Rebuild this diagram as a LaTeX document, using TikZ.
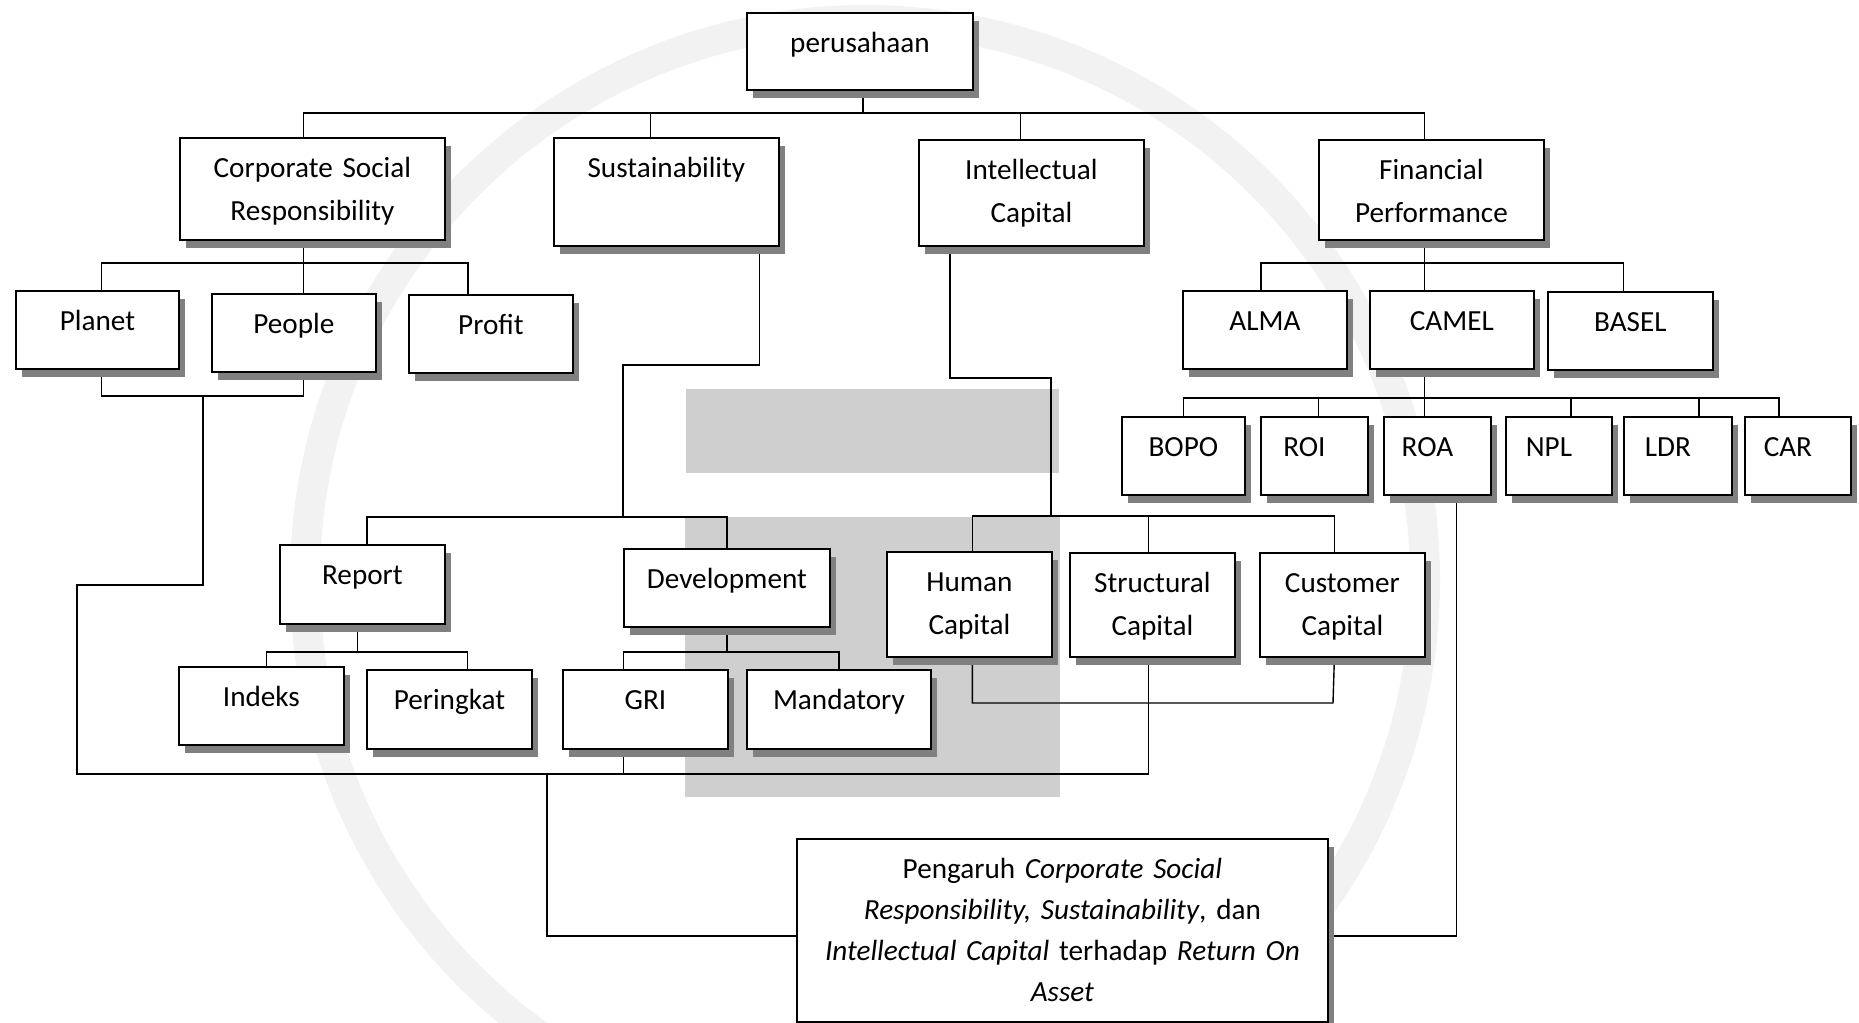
\documentclass[tikz,border=0pt]{standalone}
\usepackage{fontspec}
\setmainfont{Carlito}
\usetikzlibrary{shadows,backgrounds}

\begin{document}
\begin{tikzpicture}[x=0.5pt,y=-0.5pt,
    box/.style={draw=black, line width=0.9pt, fill=white, inner sep=0pt, anchor=north west,
        align=center, text height=20pt, font=\fontsize{14.6pt}{21.3pt}\selectfont,
        drop shadow={shadow xshift=3pt, shadow yshift=-4pt, fill=black!50, opacity=1}},
    link/.style={draw=black, line width=0.7pt}]
    \useasboundingbox (0,0) rectangle (1859,1023);

    % top and first level
    \node[box, text width=113pt, text depth=18.5pt] (top) at (746,12) {perusahaan};
    \node[box, text width=132.5pt, text depth=31pt] (csr) at (179,137) {Corporate Social\\Responsibility};
    \node[box, text width=112.5pt, text depth=34pt] (sust) at (553,137) {Sustainability};
    \node[box, text width=112.5pt, text depth=33pt] (ic) at (918,139) {Intellectual\\Capital};
    \node[box, text width=112.5pt, text depth=30pt] (fp) at (1318,139) {Financial\\Performance};

    % second level
    \node[box, text width=81.5pt, text depth=19pt] (planet) at (15,290) {Planet};
    \node[box, text width=82pt, text depth=19pt] (people) at (211,293) {People};
    \node[box, text width=82pt, text depth=19pt] (profit) at (408,294) {Profit};
    \node[box, text width=82pt, text depth=19pt] (alma) at (1182,290) {ALMA};
    \node[box, text width=82pt, text depth=19pt] (camel) at (1369,290) {CAMEL};
    \node[box, text width=82.5pt, text depth=19pt] (basel) at (1547,291) {BASEL};

    % camel ratios
    \node[box, text width=61.5pt, text depth=19pt] (bopo) at (1121,416) {BOPO};
    \node[box, text width=53.5pt, text depth=19pt] (roi) at (1260,416) {ROI\kern10pt};
    \node[box, text width=53.5pt, text depth=19pt] (roa) at (1383,416) {ROA\kern10pt};
    \node[box, text width=53pt, text depth=19pt] (npl) at (1505,416) {NPL\kern10pt};
    \node[box, text width=54pt, text depth=19pt] (ldr) at (1623,416) {LDR\kern10pt};
    \node[box, text width=53pt, text depth=19pt] (car) at (1744,416) {CAR\kern10pt};

    % sustainability branch
    \node[box, text width=82.5pt, text depth=19.5pt] (report) at (279,544) {Report};
    \node[box, text width=103pt, text depth=19pt] (dev) at (623,548) {Development};
    \node[box, text width=82.5pt, text depth=19pt] (indeks) at (178,666) {Indeks};
    \node[box, text width=82.5pt, text depth=19.5pt] (peringkat) at (366,669) {Peringkat};
    \node[box, text width=82.5pt, text depth=19.5pt] (gri) at (562,669) {GRI};
    \node[box, text width=92pt, text depth=19.5pt] (mandatory) at (746,669) {Mandatory};

    % intellectual capital branch
    \node[box, text width=82.5pt, text depth=32.5pt] (human) at (886,551) {Human\\Capital};
    \node[box, text width=82.5pt, text depth=32pt] (structural) at (1069,552) {Structural\\Capital};
    \node[box, text width=82.5pt, text depth=32pt] (customer) at (1259,552) {Customer\\Capital};

    % result
    \node[box, text width=265.5pt, text depth=71.5pt, font=\fontsize{14.6pt}{20.4pt}\selectfont] (final) at (796,838)
        {Pengaruh \textit{Corporate Social}\\\textit{Responsibility, Sustainability}, dan\\\textit{Intellectual Capital} terhadap \textit{Return On}\\\textit{Asset}};

    \begin{scope}[on background layer]
    % watermark
    \draw[black!5, line width=15pt] (865,580) circle [radius=280pt];
    \fill[black!19] (686,389) rectangle (1059,473);
    \fill[black!19] (685,517) rectangle (1060,797);

    % perusahaan
    \coordinate (j0) at ([xshift=1.5pt,yshift=-11pt]top.south);
    \draw[link] ([xshift=1.5pt]top.south) -- (j0);
    \draw[link] ([xshift=-4.5pt]csr.north) |- (j0);
    \draw[link] ([xshift=-8pt]sust.north) |- (j0);
    \draw[link] ([xshift=-5.5pt]ic.north) |- (j0);
    \draw[link] ([xshift=-3.5pt]fp.north) |- (j0);

    % csr
    \coordinate (j1) at ([xshift=-4.5pt,yshift=-11pt]csr.south);
    \draw[link] ([xshift=-4.5pt]csr.south) -- (j1 |- people.north);
    \draw[link] ([xshift=2pt]planet.north) |- (j1);
    \draw[link] ([xshift=-11.5pt]profit.north) |- (j1);
    \coordinate (m1) at (203,396);
    \draw[link] ([xshift=2pt]planet.south) |- (m1) -| ([xshift=4.75pt]people.south);
    \coordinate (k4) at (77,585);
    \coordinate (k6) at (77,774);
    \coordinate (sx) at ([xshift=-2pt]structural.south);
    \draw[link] (m1) |- (k4) -- (k6) -| (sx);

    % sustainability
    \coordinate (j3) at (623,517);
    \draw[link] ([xshift=46.5pt]sust.south) |- (623,365) -- (j3);
    \draw[link] ([xshift=2.25pt]report.north) |- (j3);
    \draw[link] (dev.north) |- (j3);
    \coordinate (j4) at ([xshift=-2.5pt,yshift=-13.5pt]report.south);
    \draw[link] ([xshift=-2.5pt]report.south) -- (j4);
    \draw[link] ([xshift=2.5pt]indeks.north) |- (j4);
    \draw[link] ([xshift=9pt]peringkat.north) |- (j4);
    \coordinate (j5) at ([yshift=-12pt]dev.south);
    \draw[link] (dev.south) -- (j5);
    \draw[link] ([xshift=-11pt]gri.north) |- (j5);
    \draw[link] (mandatory.north) |- (j5);
    \coordinate (k5) at (547,774);
    \draw[link] ([xshift=-11pt]gri.south) |- (k5);
    \draw[link] (k5) |- ([yshift=-2.75pt]final.west);

    % intellectual capital
    \coordinate (j6) at (1051,516);
    \draw[link] ([xshift=-40.75pt]ic.south) |- (1051,378) -- (j6);
    \draw[link] ([xshift=1.5pt]human.north) |- (j6);
    \draw[link] ([xshift=-2pt]structural.north) |- (j6);
    \draw[link] ([xshift=-4pt]customer.north) |- (j6);
    \coordinate (k3) at (1333,703);
    \draw[link] ([xshift=1.5pt]human.south) |- (k3) -- ([xshift=-4pt]customer.south);

    % financial performance
    \coordinate (j7) at ([xshift=-3.5pt,yshift=-11pt]fp.south);
    \draw[link] ([xshift=-3.5pt]fp.south) -- (j7 |- camel.north);
    \draw[link] ([xshift=-2pt]alma.north) |- (j7);
    \draw[link] ([xshift=-3.5pt]basel.north) |- (j7);
    \coordinate (j8) at ([xshift=-13.75pt,yshift=-14pt]camel.south);
    \draw[link] ([xshift=-13.75pt]camel.south) -- (j8 |- roa.north);
    \draw[link] (bopo.north) |- (j8);
    \draw[link] ([xshift=2pt]roi.north) |- (j8);
    \draw[link] ([xshift=6pt]npl.north) |- (j8);
    \draw[link] ([xshift=10.5pt]ldr.north) |- (j8);
    \draw[link] ([xshift=-9.5pt]car.north) |- (j8);
    \draw[link] ([xshift=9.5pt]roa.south) |- ([yshift=-2.75pt]final.east);
    \end{scope}
\end{tikzpicture}
\end{document}
